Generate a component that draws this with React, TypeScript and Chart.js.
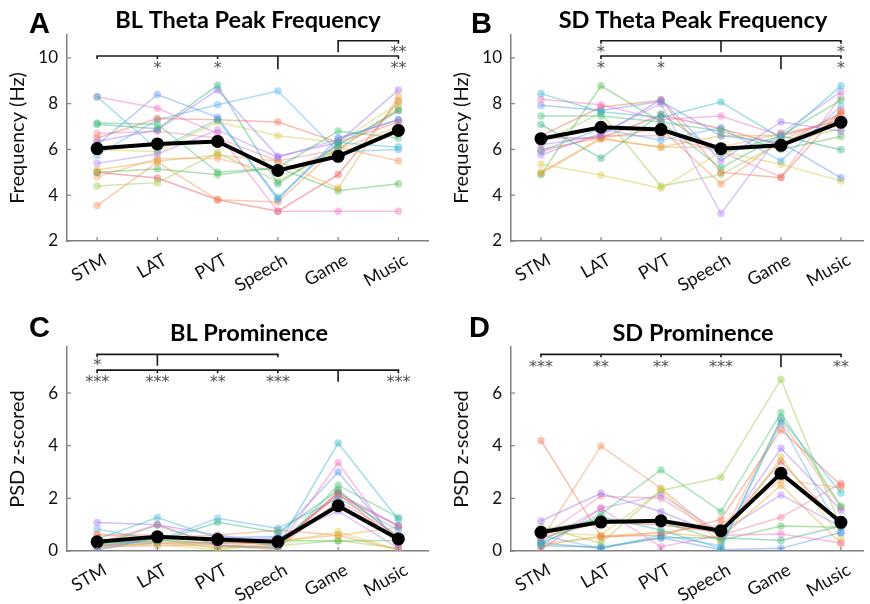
import React, { useEffect, useRef } from 'react';
import { Chart, registerables } from 'chart.js';
Chart.register(...registerables);

const categories = ['STM', 'LAT', 'PVT', 'Speech', 'Game', 'Music'];
const freqTicks = [2, 4, 6, 8, 10];
const psdTicks = [0, 2, 4, 6];

const subjectColors = [
  '#30b8c8', '#f070c0', '#5a8ef0', '#40c070', '#30b080', '#f07050', '#a070f0', '#50b0f0',
  '#b080f0', '#d8c840', '#e8a830', '#50b850', '#98c840', '#f09050', '#e85050', '#f0a870', '#f080a0',
];

// Panel A: BL theta peak frequency
const blFreqMean = [6.04, 6.24, 6.35, 5.08, 5.7, 6.83];
const blFreqSubjects = [
  [8.3, 6.0, 7.3, 3.9, 6.3, 6.1],
  [8.3, 7.8, 6.7, 3.3, 3.3, 3.3],
  [6.2, 8.4, 7.4, 3.8, 6.5, 7.3],
  [7.15, 7.1, 5.0, 5.2, 6.8, 6.5],
  [7.1, 6.9, 8.8, 4.5, 6.2, 7.7],
  [6.5, 7.35, 7.3, 7.2, 6.3, 7.2],
  [6.35, 6.85, 8.6, 5.7, 6.3, 8.6],
  [5.75, 7.3, 7.95, 8.55, 5.9, 6.0],
  [5.4, 5.8, 6.85, 5.65, 6.45, 7.3],
  [6.0, 5.9, 7.2, 6.6, 6.3, 8.0],
  [5.1, 5.5, 5.75, 5.5, 4.3, 8.3],
  [5.0, 5.15, 4.9, 5.2, 4.2, 4.5],
  [4.4, 4.55, 5.85, 4.6, 6.0, 7.8],
  [3.55, 5.45, 3.8, 3.7, 6.1, 5.5],
  [5.0, 4.75, 3.8, 3.3, 4.9, 8.1],
  [4.8, 5.6, 5.6, 5.0, 6.0, 7.0],
  [6.7, 6.8, 6.5, 5.5, 6.0, 7.7],
];

// Panel B: SD theta peak frequency
const sdFreqMean = [6.47, 6.97, 6.87, 6.03, 6.18, 7.19];
const sdFreqSubjects = [
  [8.44, 7.65, 7.4, 8.07, 6.5, 8.78],
  [8.19, 7.95, 7.3, 7.46, 6.6, 7.3],
  [7.93, 7.7, 8.1, 6.6, 6.3, 4.76],
  [7.46, 7.46, 7.2, 5.2, 6.6, 8.15],
  [7.09, 5.62, 7.55, 5.8, 6.6, 5.99],
  [6.6, 7.85, 8.15, 5.0, 4.76, 7.7],
  [6.2, 6.6, 8.18, 5.5, 7.2, 6.8],
  [5.94, 6.9, 6.4, 6.95, 5.5, 7.9],
  [5.76, 6.7, 8.0, 3.2, 6.7, 8.53],
  [5.35, 4.88, 4.3, 5.9, 5.35, 4.62],
  [5.0, 6.5, 6.1, 6.6, 6.6, 7.3],
  [4.9, 8.78, 7.2, 6.8, 6.0, 6.57],
  [6.3, 7.6, 4.4, 4.9, 6.3, 6.9],
  [6.0, 6.5, 6.9, 4.5, 6.4, 7.5],
  [6.5, 6.5, 7.5, 6.9, 6.2, 7.6],
  [4.95, 6.45, 6.1, 6.1, 6.7, 7.2],
  [5.9, 6.6, 6.6, 5.9, 4.8, 8.3],
];

// Panel C: BL prominence
const blPromMean = [0.35, 0.54, 0.44, 0.35, 1.72, 0.46];
const blPromSubjects = [
  [0.45, 1.27, 0.5, 0.2, 4.1, 1.2],
  [0.3, 1.0, 0.2, 0.15, 3.35, 0.2],
  [0.04, 0.5, 0.5, 0.55, 3.0, 0.3],
  [0.2, 0.99, 0.2, 0.1, 2.5, 1.27],
  [0.3, 0.35, 1.09, 0.7, 2.3, 0.5],
  [0.63, 0.6, 0.4, 0.2, 2.2, 0.3],
  [1.08, 1.0, 0.6, 0.3, 2.2, 0.96],
  [0.84, 0.4, 1.24, 0.86, 2.0, 0.8],
  [0.15, 0.5, 0.4, 0.5, 1.52, 0.1],
  [0.23, 0.25, 0.05, 0.3, 0.73, 0.05],
  [0.1, 0.3, 0.15, 0.4, 0.6, 0.9],
  [0.2, 0.4, 0.3, 0.4, 0.38, 0.4],
  [0.25, 0.45, 0.1, 0.2, 0.4, 0.1],
  [0.4, 0.5, 0.6, 0.8, 0.6, 0.05],
  [0.2, 0.3, 0.3, 0.3, 2.1, 0.95],
  [0.6, 0.5, 0.2, 0.05, 2.3, 0.5],
  [0.15, 0.2, 0.25, 0.1, 1.9, 0.6],
];

// Panel D: SD prominence
const sdPromMean = [0.71, 1.1, 1.15, 0.77, 2.95, 1.09];
const sdPromSubjects = [
  [0.3, 1.3, 0.8, 0.1, 5.04, 2.2],
  [0.04, 1.62, 0.16, 0.6, 0.65, 0.3],
  [0.3, 0.1, 0.5, 0.05, 0.1, 0.7],
  [0.25, 1.4, 3.08, 1.5, 5.25, 1.7],
  [0.2, 0.15, 0.5, 0.5, 0.4, 0.95],
  [4.2, 0.55, 0.6, 1.2, 4.6, 2.5],
  [1.14, 2.19, 1.49, 0.6, 3.9, 1.55],
  [0.6, 0.1, 0.6, 0.2, 4.87, 0.7],
  [0.35, 1.62, 2.13, 0.7, 2.13, 0.92],
  [0.7, 0.6, 2.3, 0.3, 3.58, 0.5],
  [0.2, 0.57, 0.7, 0.5, 2.5, 0.29],
  [0.8, 1.2, 1.1, 0.4, 0.95, 0.9],
  [0.92, 0.3, 2.3, 2.8, 6.52, 0.9],
  [0.4, 3.99, 2.38, 0.5, 4.97, 1.65],
  [0.5, 1.1, 1.0, 0.7, 3.4, 1.0],
  [0.3, 0.5, 0.7, 1.0, 2.7, 2.4],
  [0.5, 2.09, 2.0, 0.6, 1.28, 2.57],
];

type Bracket = { from: number; to: number; y: number; ref: number; refY: number; markY: number; marks: [number, string][] };

const bracketsA: Bracket[] = [
  { from: 5, to: 6, y: 10.75, ref: 5, refY: 10.25, markY: 10.4, marks: [[6, '**']] },
  { from: 1, to: 6, y: 10.08, ref: 4, refY: 9.5, markY: 9.7, marks: [[2, '*'], [3, '*'], [6, '**']] },
];
const bracketsB: Bracket[] = [
  { from: 2, to: 6, y: 10.75, ref: 4, refY: 10.25, markY: 10.4, marks: [[2, '*'], [6, '*']] },
  { from: 2, to: 6, y: 10.08, ref: 5, refY: 9.5, markY: 9.7, marks: [[2, '*'], [3, '*'], [6, '*']] },
];
const bracketsC: Bracket[] = [
  { from: 1, to: 4, y: 7.47, ref: 2, refY: 7.04, markY: 7.17, marks: [[1, '*']] },
  { from: 1, to: 6, y: 6.87, ref: 5, refY: 6.43, markY: 6.55, marks: [[1, '***'], [2, '***'], [3, '**'], [4, '***'], [6, '***']] },
];
const bracketsD: Bracket[] = [
  { from: 1, to: 6, y: 7.47, ref: 5, refY: 6.98, markY: 7.1, marks: [[1, '***'], [2, '**'], [3, '**'], [4, '***'], [6, '**']] },
];

const FONT = 'Lato, "DejaVu Sans", sans-serif';

const decoPlugin = {
  id: 'deco',
  afterDatasetsDraw(chart: any, _args: any, opts: any) {
    const { ctx } = chart;
    const x = chart.scales.x;
    const y = chart.scales.y;
    const line = (x1: number, y1: number, x2: number, y2: number) => {
      ctx.beginPath();
      ctx.moveTo(x1, y1);
      ctx.lineTo(x2, y2);
      ctx.stroke();
    };
    ctx.save();
    ctx.strokeStyle = '#808080';
    ctx.lineWidth = 1.2;
    y.ticks.forEach((t: any) => {
      const py = y.getPixelForValue(t.value);
      line(x.left, py, x.left + 4, py);
    });
    x.ticks.forEach((t: any) => {
      const px = x.getPixelForValue(t.value);
      line(px, y.bottom, px, y.bottom - 4);
    });
    ctx.strokeStyle = '#1a1a1a';
    ctx.lineWidth = 1.6;
    (opts.brackets as Bracket[]).forEach((b) => {
      const yy = y.getPixelForValue(b.y);
      line(x.getPixelForValue(b.from) - 0.8, yy, x.getPixelForValue(b.to) + 0.8, yy);
      const xr = x.getPixelForValue(b.ref);
      line(xr, yy, xr, y.getPixelForValue(b.refY));
      const shortTicks = new Set<number>([b.from, b.to, ...b.marks.map((m) => m[0])]);
      shortTicks.forEach((c) => {
        if (c === b.ref) return;
        const px = x.getPixelForValue(c);
        line(px, yy, px, yy + 3);
      });
      ctx.fillStyle = '#505050';
      ctx.font = '16px "DejaVu Sans", sans-serif';
      ctx.textAlign = 'center';
      ctx.textBaseline = 'middle';
      b.marks.forEach(([c, s]) => {
        ctx.fillText(s, x.getPixelForValue(c), y.getPixelForValue(b.markY) + 4);
      });
    });
    ctx.fillStyle = '#000';
    ctx.textBaseline = 'alphabetic';
    ctx.textAlign = 'center';
    ctx.font = `bold 23.5px ${FONT}`;
    ctx.fillText(opts.title, opts.titleX, opts.titleY);
    ctx.textAlign = 'left';
    ctx.font = 'bold 29px "Liberation Sans", Arial, sans-serif';
    ctx.fillText(opts.letter, opts.letterX, opts.letterY);
    ctx.restore();
  },
};

type PanelCfg = {
  subjects: number[][];
  mean: number[];
  yMin: number;
  yMax: number;
  yTicks: number[];
  xMax: number;
  yTitle: string;
  yTitlePad: number;
  yAxisWidth: number;
  xAxisHeight: number;
  padTop: number;
  padRight: number;
  title: string;
  titleX: number;
  titleY: number;
  letter: string;
  letterX: number;
  letterY: number;
  brackets: Bracket[];
};

function hexA(hex: string, a: number) {
  const r = parseInt(hex.slice(1, 3), 16);
  const g = parseInt(hex.slice(3, 5), 16);
  const b = parseInt(hex.slice(5, 7), 16);
  return `rgba(${r},${g},${b},${a})`;
}

function Panel({ cfg, left, top }: { cfg: PanelCfg; left: number; top: number }) {
  const ref = useRef<HTMLCanvasElement>(null);
  useEffect(() => {
    const toPts = (arr: number[]) => arr.map((v, i) => ({ x: i + 1, y: v }));
    const datasets: any[] = [
      {
        data: toPts(cfg.mean),
        borderColor: '#000',
        backgroundColor: '#000',
        borderWidth: 4,
        pointRadius: 6.5,
        pointBorderWidth: 0,
      },
      ...cfg.subjects.map((s, i) => ({
        data: toPts(s),
        borderColor: hexA(subjectColors[i % subjectColors.length], 0.45),
        backgroundColor: hexA(subjectColors[i % subjectColors.length], 0.42),
        borderWidth: 1.5,
        pointRadius: 3.8,
        pointBorderWidth: 0,
      })),
    ];
    const chart = new Chart(ref.current!, {
      type: 'line',
      data: { datasets },
      plugins: [decoPlugin as any],
      options: {
        responsive: false,
        animation: false,
        devicePixelRatio: 1,
        layout: { padding: { top: cfg.padTop, right: cfg.padRight, left: 0, bottom: 0 } },
        plugins: {
          legend: { display: false },
          tooltip: { enabled: false },
          deco: {
            brackets: cfg.brackets,
            title: cfg.title,
            titleX: cfg.titleX,
            titleY: cfg.titleY,
            letter: cfg.letter,
            letterX: cfg.letterX,
            letterY: cfg.letterY,
          },
        } as any,
        scales: {
          x: {
            type: 'linear',
            min: 0.5,
            max: cfg.xMax,
            grid: { display: false, drawTicks: false },
            border: { display: true, color: '#808080', width: 1.5 },
            afterBuildTicks: (s: any) => {
              s.ticks = categories.map((_, i) => ({ value: i + 1 }));
            },
            afterFit: (s: any) => {
              s.height = cfg.xAxisHeight;
            },
            ticks: {
              autoSkip: false,
              minRotation: 30,
              maxRotation: 30,
              padding: 8,
              labelOffset: 8,
              color: '#111',
              font: { family: FONT, size: 18 },
              callback: (v: any) => categories[Math.round(v) - 1] ?? '',
            },
          },
          y: {
            type: 'linear',
            min: cfg.yMin,
            max: cfg.yMax,
            grid: { display: false, drawTicks: false },
            border: { display: true, color: '#808080', width: 1.5 },
            afterBuildTicks: (s: any) => {
              s.ticks = cfg.yTicks.map((v) => ({ value: v }));
            },
            afterFit: (s: any) => {
              s.width = cfg.yAxisWidth;
            },
            ticks: {
              padding: 9,
              color: '#111',
              font: { family: FONT, size: 17 },
            },
            title: {
              display: true,
              text: cfg.yTitle,
              color: '#111',
              font: { family: FONT, size: 20 },
              padding: { top: cfg.yTitlePad, bottom: 0 },
            },
          },
        },
      } as any,
    });
    return () => chart.destroy();
  }, []);
  return (
    <canvas
      ref={ref}
      width={435}
      height={302}
      style={{ position: 'absolute', left, top, width: 435, height: 302 }}
    />
  );
}

const panelA: PanelCfg = {
  subjects: blFreqSubjects, mean: blFreqMean, yMin: 2, yMax: 11, yTicks: freqTicks, xMax: 6.5,
  yTitle: 'Frequency (Hz)', yTitlePad: 6, yAxisWidth: 67, xAxisHeight: 61, padTop: 35, padRight: 1.5,
  title: 'BL Theta Peak Frequency', titleX: 248, titleY: 28, letter: 'A', letterX: 29, letterY: 33,
  brackets: bracketsA,
};
const panelB: PanelCfg = {
  subjects: sdFreqSubjects, mean: sdFreqMean, yMin: 2, yMax: 11, yTicks: freqTicks, xMax: 6.376,
  yTitle: 'Frequency (Hz)', yTitlePad: 15, yAxisWidth: 76, xAxisHeight: 61, padTop: 35, padRight: 0,
  title: 'SD Theta Peak Frequency', titleX: 258, titleY: 28, letter: 'B', letterX: 36, letterY: 33,
  brackets: bracketsB,
};
const panelC: PanelCfg = {
  subjects: blPromSubjects, mean: blPromMean, yMin: 0, yMax: 7.75, yTicks: psdTicks, xMax: 6.5,
  yTitle: 'PSD z-scored', yTitlePad: 6, yAxisWidth: 67, xAxisHeight: 53, padTop: 45, padRight: 1.5,
  title: 'BL Prominence', titleX: 249, titleY: 39, letter: 'C', letterX: 29, letterY: 35,
  brackets: bracketsC,
};
const panelD: PanelCfg = {
  subjects: sdPromSubjects, mean: sdPromMean, yMin: 0, yMax: 7.75, yTicks: psdTicks, xMax: 6.376,
  yTitle: 'PSD z-scored', yTitlePad: 15, yAxisWidth: 76, xAxisHeight: 53, padTop: 45, padRight: 0,
  title: 'SD Prominence', titleX: 258, titleY: 39, letter: 'D', letterX: 34, letterY: 35,
  brackets: bracketsD,
};

export default function App() {
  return (
    <div style={{ position: 'absolute', left: 0, top: 0, width: 870, height: 604, background: '#fff', overflow: 'hidden' }}>
      <Panel cfg={panelA} left={0} top={0} />
      <Panel cfg={panelB} left={435} top={0} />
      <Panel cfg={panelC} left={0} top={302} />
      <Panel cfg={panelD} left={435} top={302} />
    </div>
  );
}
